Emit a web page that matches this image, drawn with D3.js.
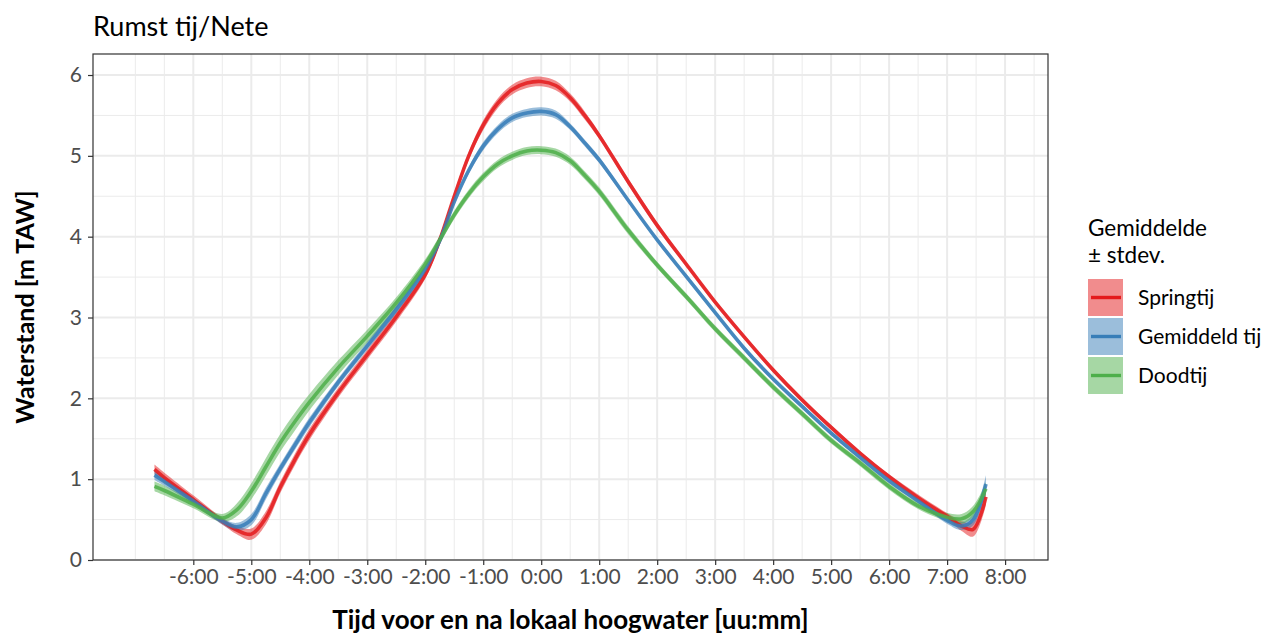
<!DOCTYPE html>
<html>
<head>
<meta charset="utf-8">
<title>Rumst tij/Nete</title>
<script src="https://cdn.jsdelivr.net/npm/d3@7"></script>
<style>
  body { margin: 0; background: #fff; }
  text { font-family: Lato, "Open Sans", sans-serif; }
</style>
</head>
<body>
<div id="chart"></div>
<script>
// tijd t.o.v. lokaal hoogwater (uur)
var hours = [-6.67, -6.5, -6, -5.5, -5.25, -5, -4.75, -4.5, -4.25, -4,
  -3.5, -3, -2.5, -2, -1.75, -1.5, -1.25, -1, -0.75, -0.5,
  -0.25, 0, 0.25, 0.5, 0.75, 1, 1.5, 2, 2.5, 3, 3.5,
  4, 4.5, 5, 5.5, 6, 6.5, 7, 7.25, 7.45, 7.67];

var springMean = [1.12, 1.02, 0.75, 0.48, 0.37, 0.32, 0.52, 0.90, 1.24, 1.55,
  2.07, 2.54, 3.01, 3.53, 3.96, 4.50, 5.00, 5.38, 5.65, 5.82,
  5.90, 5.92, 5.87, 5.72, 5.50, 5.25, 4.68, 4.14, 3.66, 3.19, 2.76,
  2.35, 1.98, 1.64, 1.32, 1.03, 0.77, 0.54, 0.42, 0.38, 0.78];
var springSd = [0.06, 0.06, 0.05, 0.04, 0.05, 0.07, 0.08, 0.07, 0.07, 0.07,
  0.06, 0.06, 0.06, 0.05, 0.05, 0.05, 0.05, 0.06, 0.06, 0.06,
  0.06, 0.06, 0.06, 0.05, 0.05, 0.04, 0.04, 0.04, 0.03, 0.03, 0.03,
  0.03, 0.03, 0.03, 0.03, 0.03, 0.04, 0.04, 0.06, 0.09, 0.10];

var gemMean = [1.05, 0.97, 0.73, 0.48, 0.41, 0.50, 0.82, 1.13, 1.42, 1.70,
  2.20, 2.65, 3.10, 3.60, 3.95, 4.43, 4.82, 5.12, 5.33, 5.47,
  5.53, 5.55, 5.51, 5.36, 5.16, 4.95, 4.45, 3.96, 3.51, 3.06, 2.62,
  2.24, 1.90, 1.57, 1.27, 0.98, 0.73, 0.49, 0.42, 0.50, 0.94];
var gemSd = [0.06, 0.05, 0.04, 0.04, 0.05, 0.07, 0.07, 0.06, 0.06, 0.06,
  0.05, 0.05, 0.05, 0.05, 0.05, 0.04, 0.04, 0.05, 0.05, 0.05,
  0.05, 0.05, 0.05, 0.04, 0.04, 0.04, 0.03, 0.03, 0.03, 0.03, 0.03,
  0.03, 0.03, 0.03, 0.03, 0.03, 0.03, 0.04, 0.05, 0.07, 0.11];

var doodMean = [0.91, 0.86, 0.69, 0.52, 0.62, 0.85, 1.15, 1.45, 1.71, 1.95,
  2.38, 2.77, 3.18, 3.66, 3.96, 4.27, 4.53, 4.74, 4.90, 5.00,
  5.06, 5.07, 5.04, 4.94, 4.76, 4.56, 4.08, 3.65, 3.26, 2.86, 2.50,
  2.14, 1.81, 1.48, 1.20, 0.91, 0.67, 0.53, 0.51, 0.60, 0.88];
var doodSd = [0.06, 0.06, 0.05, 0.05, 0.08, 0.10, 0.11, 0.11, 0.11, 0.10,
  0.09, 0.08, 0.07, 0.06, 0.05, 0.05, 0.05, 0.05, 0.05, 0.05,
  0.05, 0.05, 0.05, 0.05, 0.05, 0.05, 0.05, 0.04, 0.04, 0.04, 0.04,
  0.04, 0.04, 0.04, 0.04, 0.04, 0.04, 0.05, 0.06, 0.07, 0.08];

var seriesNames = ["Springtij", "Gemiddeld tij", "Doodtij"];
var seriesColors = ["#E41A1C", "#377EB8", "#4DAF4A"];

var xTicks = [-6, -5, -4, -3, -2, -1, 0, 1, 2, 3, 4, 5, 6, 7, 8];
var xTickLabels = ["-6:00", "-5:00", "-4:00", "-3:00", "-2:00", "-1:00", "0:00",
  "1:00", "2:00", "3:00", "4:00", "5:00", "6:00", "7:00", "8:00"];
var xMinor = [-7, -6.5, -5.5, -4.5, -3.5, -2.5, -1.5, -0.5, 0.5, 1.5, 2.5, 3.5, 4.5, 5.5, 6.5, 7.5, 8.5];
var yTicks = [0, 1, 2, 3, 4, 5, 6];
var yMinor = [0.5, 1.5, 2.5, 3.5, 4.5, 5.5];

var W = 1265, H = 635;
var margin = {top: 54, right: 217, bottom: 75, left: 93};
var width = W - margin.left - margin.right,
    height = H - margin.top - margin.bottom;

var series = [springMean, gemMean, doodMean].map(function(m, i) {
  var sd = [springSd, gemSd, doodSd][i];
  return {
    name: seriesNames[i],
    color: seriesColors[i],
    values: hours.map(function(h, j) { return {t: h, m: m[j], sd: sd[j]}; })
  };
});

var svg = d3.select("#chart")
  .append("svg")
    .attr("width", W)
    .attr("height", H);

var g = svg.append("g")
    .attr("transform", "translate(" + margin.left + "," + margin.top + ")");

var x = d3.scaleLinear().domain([-7.73, 8.74]).range([0, width]);
var y = d3.scaleLinear().domain([0, 6.26]).range([height, 0]);

// grid
g.selectAll(".xminor").data(xMinor).enter().append("line")
  .attr("x1", function(d) { return x(d); }).attr("x2", function(d) { return x(d); })
  .attr("y1", 0).attr("y2", height)
  .style("stroke", "#ebebeb").style("stroke-width", 1);
g.selectAll(".yminor").data(yMinor).enter().append("line")
  .attr("y1", function(d) { return y(d); }).attr("y2", function(d) { return y(d); })
  .attr("x1", 0).attr("x2", width)
  .style("stroke", "#ebebeb").style("stroke-width", 1);
g.selectAll(".xmajor").data(xTicks).enter().append("line")
  .attr("x1", function(d) { return x(d); }).attr("x2", function(d) { return x(d); })
  .attr("y1", 0).attr("y2", height)
  .style("stroke", "#ebebeb").style("stroke-width", 2);
g.selectAll(".ymajor").data(yTicks).enter().append("line")
  .attr("y1", function(d) { return y(d); }).attr("y2", function(d) { return y(d); })
  .attr("x1", 0).attr("x2", width)
  .style("stroke", "#ebebeb").style("stroke-width", 2);

// ribbons then lines
var area = d3.area()
  .x(function(d) { return x(d.t); })
  .y0(function(d) { return y(d.m - d.sd); })
  .y1(function(d) { return y(d.m + d.sd); })
  .curve(d3.curveCatmullRom.alpha(0.5));
var line = d3.line()
  .x(function(d) { return x(d.t); })
  .y(function(d) { return y(d.m); })
  .curve(d3.curveCatmullRom.alpha(0.5));

g.selectAll(".ribbon").data(series).enter().append("path")
  .attr("d", function(d) { return area(d.values); })
  .style("fill", function(d) { return d.color; })
  .style("opacity", 0.5);
g.selectAll(".mean").data(series).enter().append("path")
  .attr("d", function(d) { return line(d.values); })
  .style("fill", "none")
  .style("stroke", function(d) { return d.color; })
  .style("stroke-width", 3.6)
  .style("opacity", 0.85);

// panel border
g.append("rect")
  .attr("width", width).attr("height", height)
  .style("fill", "none").style("stroke", "#333333").style("stroke-width", 1.2);

// axes
var xAxis = g.append("g")
  .attr("transform", "translate(0," + height + ")")
  .call(d3.axisBottom(x).tickValues(xTicks)
    .tickFormat(function(d, i) { return xTickLabels[i]; })
    .tickSize(5).tickPadding(4));
var yAxis = g.append("g")
  .call(d3.axisLeft(y).tickValues(yTicks).tickFormat(d3.format("d"))
    .tickSize(5).tickPadding(6));
[xAxis, yAxis].forEach(function(a) {
  a.select(".domain").remove();
  a.selectAll(".tick line").style("stroke", "#333333").style("stroke-width", 1.2);
  a.selectAll(".tick text").style("fill", "#4d4d4d").style("font-size", "21px")
    .style("font-family", "Lato, 'Open Sans', sans-serif");
});

// titles
svg.append("text")
  .attr("x", 93).attr("y", 36)
  .style("font-size", "27px")
  .text("Rumst tij/Nete");

svg.append("text")
  .attr("x", margin.left + width / 2).attr("y", 629)
  .style("text-anchor", "middle")
  .style("font-size", "26px").style("font-weight", "bold")
  .text("Tijd voor en na lokaal hoogwater [uu:mm]");

svg.append("text")
  .attr("transform", "translate(34," + (margin.top + height / 2) + ")rotate(-90)")
  .style("text-anchor", "middle")
  .style("font-size", "25px").style("font-weight", "bold")
  .text("Waterstand [m TAW]");

// legend
var legend = svg.append("g").attr("transform", "translate(1088,0)");
legend.append("text").attr("x", 0).attr("y", 236)
  .style("font-size", "22.5px").text("Gemiddelde");
legend.append("text").attr("x", 0).attr("y", 263)
  .style("font-size", "22.5px").text("\u00b1 stdev.");

var keys = legend.selectAll(".key").data(series).enter().append("g")
  .attr("transform", function(d, i) { return "translate(0," + (279 + i * 39) + ")"; });
keys.append("rect")
  .attr("width", 35).attr("height", 37)
  .style("fill", function(d) { return d.color; })
  .style("opacity", 0.5);
keys.append("line")
  .attr("x1", 3).attr("x2", 33).attr("y1", 18.5).attr("y2", 18.5)
  .style("stroke", function(d) { return d.color; })
  .style("stroke-width", 3.4);
keys.append("text")
  .attr("x", 50).attr("y", 18.5).attr("dy", "0.35em")
  .style("font-size", "21px")
  .text(function(d) { return d.name; });
</script>
</body>
</html>
